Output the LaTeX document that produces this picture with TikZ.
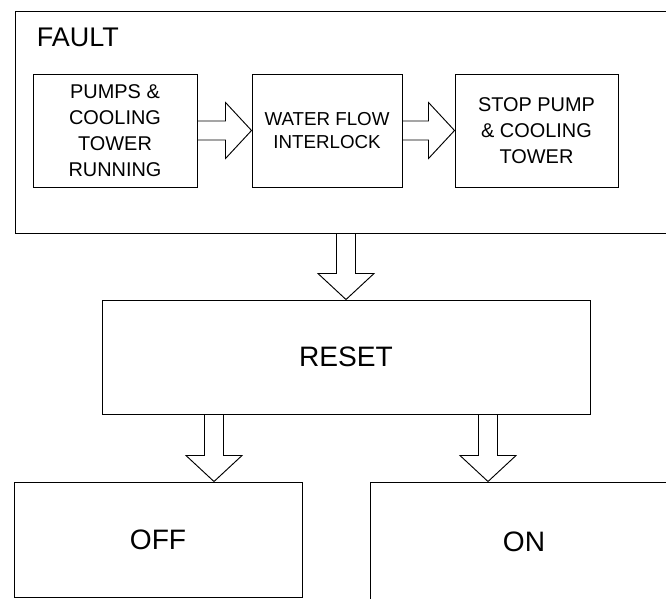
\documentclass[tikz,border=0pt]{standalone}
\usepackage{fontspec}
\setmainfont{Liberation Sans}
\usetikzlibrary{calc}

% Hollow block arrow from #1 to #2 (shaft, then open head).
\newcommand{\hollowarrow}[2]{%
  \coordinate (headbase) at ($(#2)!7.8mm!(#1)$);
  \draw[hollow]
    ($(#1)!2.85mm!90:(#2)$) -- ($(headbase)!2.85mm!90:(#2)$)
    -- ($(headbase)!8.4mm!90:(#2)$) -- (#2)
    -- ($(headbase)!8.4mm!-90:(#2)$) -- ($(headbase)!2.85mm!-90:(#2)$)
    -- ($(#1)!2.85mm!-90:(#2)$);
}

\begin{document}
\begin{tikzpicture}[
  x=0.03cm, y=-0.03cm, line width=0.8pt,
  panel/.style={draw, rectangle, inner sep=0pt},
  stage/.style={
    panel, align=center,
    minimum width=49mm, minimum height=33.9mm,
    font=\fontsize{17}{22}\selectfont
  },
  state/.style={panel, font=\fontsize{24}{28}\selectfont},
  hollow/.style={draw, line join=miter}
]
\useasboundingbox (0,0) rectangle (666,599);
\clip (0,0) rectangle (666,599);

% Fault group with its three stages.
\node[panel, minimum width=198.6mm, minimum height=66.6mm] (fault) at (346,122) {};
\node[anchor=base west, inner sep=0pt, font=\fontsize{23}{28}\selectfont]
  (faultlabel) at ([xshift=6.6mm,yshift=-10.8mm]fault.north west) {FAULT};

\node[stage, minimum width=49.2mm] (running) at (115,130.5)
  {PUMPS \&\\COOLING\\TOWER\\RUNNING};
\node[stage, minimum width=45mm, font=\fontsize{16}{19}\selectfont]
  (interlock) at (327,130.5) {WATER FLOW\\INTERLOCK};
\node[stage, minimum width=48.9mm] (stop) at (536.5,130.5)
  {STOP PUMP\\\& COOLING\\TOWER};

% Reset and the two outcomes.
\node[state, minimum width=146.4mm, minimum height=34.2mm] (reset) at (346,357) {RESET};
\node[state, minimum width=86.4mm, minimum height=34.5mm] (off) at (158,539.5) {OFF};
\node[state, minimum width=92.4mm, minimum height=36mm] (on) at (524,542) {ON};

% Flow between stages.
\hollowarrow{running.east}{interlock.west}
\hollowarrow{interlock.east}{stop.west}
\hollowarrow{fault.south}{reset.north}

\coordinate (offdrop) at ([xshift=-39.6mm]reset.south);
\coordinate (offland) at (offdrop |- off.north);
\hollowarrow{offdrop}{offland}

\coordinate (ondrop) at ([xshift=42.6mm]reset.south);
\coordinate (onland) at (ondrop |- on.north);
\hollowarrow{ondrop}{onland}

\end{tikzpicture}
\end{document}
